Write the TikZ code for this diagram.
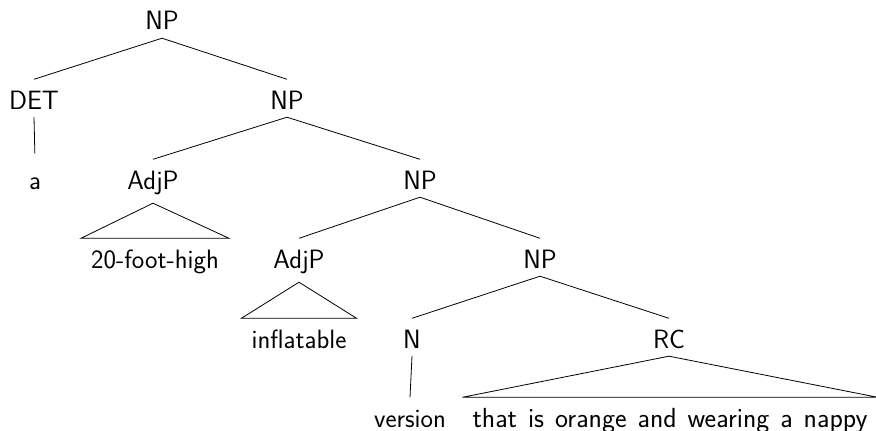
\documentclass[tikz,border=0pt]{standalone}
\begin{document}
\begin{tikzpicture}[x=1pt,y=-1pt,
  lab/.style={font=\sffamily\fontsize{26.5}{30}\selectfont, anchor=base, inner xsep=0pt, inner ysep=3pt, text height=26.5pt, text depth=5pt},
  edge/.style={line width=0.8pt}]
\useasboundingbox (0,0) rectangle (876,431);
\node[lab] (np0) at (162,30) {NP};
\node[lab] (det) at (34,109) {DET};
\node[lab] (np1) at (287,109) {NP};
\node[lab] (a) at (35,189) {a};
\node[lab] (adj1) at (153,189) {AdjP};
\node[lab] (np2) at (420,189) {NP};
\node[lab] (l1) at (155,268) {20-foot-high};
\node[lab] (adj2) at (299,268) {AdjP};
\node[lab] (np3) at (540,268) {NP};
\node[lab] (l2) at (299,348) {inflatable};
\node[lab] (n) at (412,348) {N};
\node[lab] (rc) at (669,348) {RC};
\node[lab] (ver) at (410,427) {version};
\node[lab, font=\sffamily\fontsize{27.6}{30}\selectfont] (l3) at (670,427) {\spaceskip=11pt that is orange and wearing a nappy};
\draw[edge] (np0.south) -- (det.north);
\draw[edge] (np0.south) -- (np1.north);
\draw[edge, shorten >=6pt] (det.south) -- (a.north);
\draw[edge] (np1.south) -- (adj1.north);
\draw[edge] (np1.south) -- (np2.north);
\draw[edge] ([yshift=-6pt]adj1.south) -- ([xshift=-10pt]l1.north west) -- ([xshift=10pt]l1.north east) -- cycle;
\draw[edge] (np2.south) -- (adj2.north);
\draw[edge] (np2.south) -- (np3.north);
\draw[edge] ([yshift=-6pt]adj2.south) -- ([xshift=-10pt]l2.north west) -- ([xshift=10pt]l2.north east) -- cycle;
\draw[edge] (np3.south) -- (n.north);
\draw[edge] (np3.south) -- (rc.north);
\draw[edge] (n.south) -- (ver.north);
\draw[edge] (rc.south) -- ([xshift=-10pt]l3.north west) -- ([xshift=10pt]l3.north east) -- cycle;
\end{tikzpicture}
\end{document}
